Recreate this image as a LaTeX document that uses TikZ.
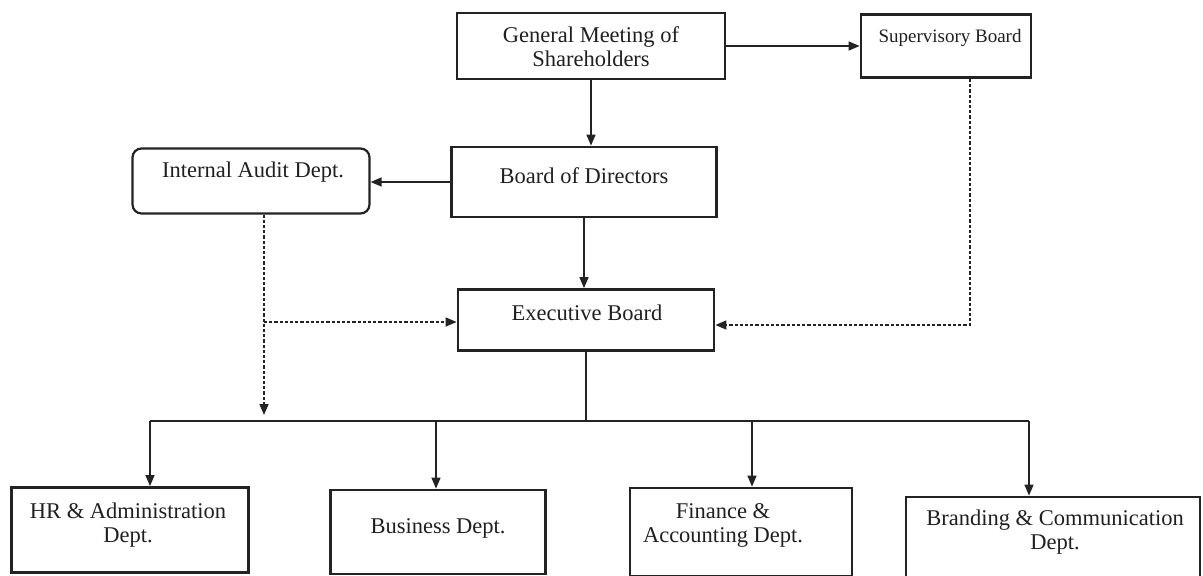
\documentclass[tikz,border=0pt]{standalone}
\usepackage{fontspec}
\setmainfont{Liberation Serif}
\usetikzlibrary{arrows.meta}
\definecolor{ink}{RGB}{35,35,35}
\definecolor{txt}{RGB}{32,32,32}
\begin{document}
\begin{tikzpicture}[x=1pt,y=-1pt,
  box/.style={draw=ink,line width=2.8pt,minimum width=#1,inner sep=0pt,fill=white},
  rbox/.style={box=#1,rounded corners=9pt,line width=2.2pt},
  lbl/.style={text=txt,align=center,font=\fontsize{22.5}{24}\selectfont,inner sep=0pt},
  conn/.style={draw=ink,line width=1.5pt},
  tip/.style={-{Triangle[length=11pt,width=9pt]}},
  arr/.style={conn,tip},
  dsh/.style={conn,line width=1.7pt,dash pattern=on 3.2pt off 2pt}]
\useasboundingbox[fill=white] (0,0) rectangle (1203,576);
% boxes
\node[box=268pt,minimum height=66pt] (gm) at (591,46) {};
\node[box=170pt,minimum height=63pt] (sb) at (946,46) {};
\node[box=265pt,minimum height=70pt] (bod) at (584,182) {};
\node[rbox=237pt,minimum height=65pt] (ia) at (251,181) {};
\node[box=256pt,minimum height=61pt] (eb) at (586,320) {};
\node[box=237pt,minimum height=85pt] (hr) at (130,530) {};
\node[box=215pt,minimum height=84pt] (bus) at (438,532) {};
\node[box=222pt,minimum height=88pt] (fin) at (741,532) {};
\node[box=294pt,minimum height=80pt] (brd) at (1053,537) {};
% labels
\node[lbl] (gmt) at (591,47) {General Meeting of\\Shareholders};
\node[lbl,font=\fontsize{19}{22}\selectfont] (sbt) at (950,38) {Supervisory Board};
\node[lbl] (bodt) at (584,176) {Board of Directors};
\node[lbl] (iat) at (253,172) {Internal Audit Dept.};
\node[lbl] (ebt) at (587,313) {Executive Board};
\node[lbl] (hrt) at (128,525) {HR \& Administration\\Dept.};
\node[lbl] (bust) at (438,528) {Business Dept.};
\node[lbl] (fint) at (723,525) {Finance \&\\Accounting Dept.};
\node[lbl] (brdt) at (1055,532) {Branding \& Communication\\Dept.};
% coordinates
\coordinate (busL) at (150,421);
\coordinate (busR) at (1029,421);
\coordinate (b2) at (436,421);
\coordinate (b3) at (752,421);
\coordinate (ia1) at (264,322);
\coordinate (ia2) at (264,415);
\coordinate (sb1) at (970,325);
% solid connectors
\draw[arr] (gm.east) -- (gm.east -| sb.west);
\draw[arr] (gm.south) -- (gm.south |- bod.north);
\draw[arr] (bod.west) -- (bod.west -| ia.east);
\draw[arr] (bod.south) -- (bod.south |- eb.north);
\draw[conn] (eb.south) -- (eb.south |- busL);
\draw[conn] (busL) -- (busR);
\draw[arr] (busL) -- (busL |- hr.north);
\draw[arr] (b2) -- (b2 |- bus.north);
\draw[arr] (b3) -- (b3 |- fin.north);
\draw[arr] (busR) -- (busR |- brd.north);
% dashed connectors
\draw[dsh,tip] (ia.south -| ia1) -- (ia2);
\draw[dsh,tip] (ia1) -- (ia1 -| eb.west);
\draw[dsh,tip] (sb.south -| sb1) -- (sb1) -- (sb1 -| eb.east);
\end{tikzpicture}
\end{document}
